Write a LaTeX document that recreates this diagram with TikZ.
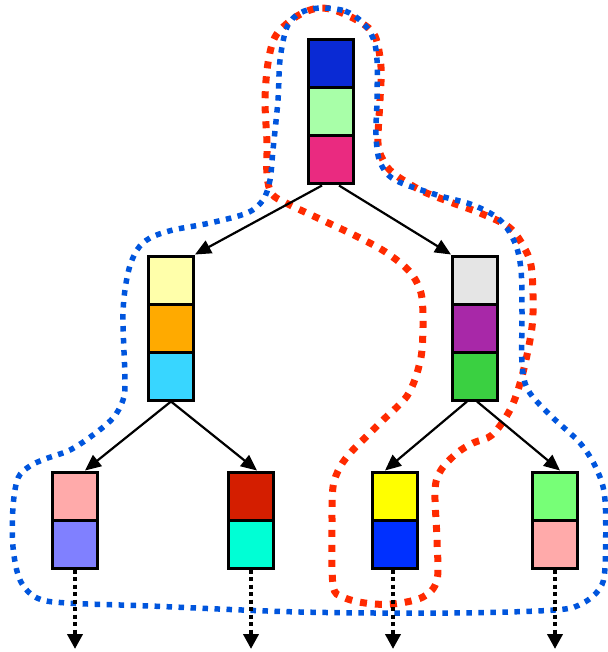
\documentclass[tikz,border=0pt]{standalone}
\usetikzlibrary{arrows.meta,calc}
\definecolor{cA}{HTML}{0A2AD4}
\definecolor{cB}{HTML}{A8FFA8}
\definecolor{cC}{HTML}{EA2A80}
\definecolor{cD}{HTML}{FFFFAA}
\definecolor{cE}{HTML}{FFAA00}
\definecolor{cF}{HTML}{38D6FF}
\definecolor{cG}{HTML}{E5E5E5}
\definecolor{cH}{HTML}{A828A8}
\definecolor{cI}{HTML}{3AD041}
\definecolor{cJ}{HTML}{FFAAAA}
\definecolor{cK}{HTML}{8080FF}
\definecolor{cL}{HTML}{D41E00}
\definecolor{cM}{HTML}{00FFD5}
\definecolor{cN}{HTML}{FFFF00}
\definecolor{cO}{HTML}{0030FF}
\definecolor{cP}{HTML}{77FF77}
\definecolor{blueline}{HTML}{0055DD}
\definecolor{redline}{HTML}{FF2A00}
\tikzset{
  cell/.style={draw=black,line width=3pt,rectangle,minimum width=45pt,minimum height=48pt,inner sep=0pt},
  arr/.style={line width=2.2pt,-{Triangle[length=16pt,width=14pt]}},
  darr/.style={line width=4pt,dash pattern=on 4pt off 3.5pt,-{Triangle[length=15pt,width=15pt]}},
  bluecurve/.style={blueline,line width=5.5pt,dash pattern=on 5.5pt off 6.5pt},
  redcurve/.style={redline,line width=7pt,dash pattern=on 7pt off 8pt},
}
\begin{document}
\begin{tikzpicture}[x=1pt,y=-1pt]
\useasboundingbox (0,0) rectangle (607,652);
% red curve
\draw[redcurve] plot[smooth cycle,tension=0.55] coordinates {
(320,8) (337,11) (360,22) (375,36) (381,67) (380,100) (378,143) (383,160) (393,173)
(420,190) (450,202) (480,213) (510,228) (527,253) (532,273) (533,313) (530,340)
(521,380) (510,410) (492,435) (473,443) (457,453) (441,470) (435,490) (437,540)
(437,580) (423,597) (393,604) (365,603) (343,597) (333,585) (332,523) (333,487)
(340,467) (352,451) (370,433) (383,420) (397,407) (407,396) (414,382) (419,366)
(422,350) (423,320) (421,293) (410,272) (387,253) (360,238) (322,220) (288,204)
(272,194) (267,175) (267,143) (265,100) (268,63) (275,37) (290,21) (305,12)};
% blue curve
\draw[bluecurve] plot[smooth cycle,tension=0.55] coordinates {
(320,8) (345,11) (362,22) (373,38) (377,60) (377,100) (376,135) (380,162) (395,180)
(437,195) (473,205) (500,220) (515,243) (521,270) (522,313) (522,363) (528,390)
(550,415) (580,443) (597,470) (605,500) (605,567) (600,588) (583,603) (555,610)
(450,613) (300,612) (150,606) (67,603) (37,598) (20,580) (13,547) (13,507)
(18,478) (30,466) (45,459) (70,450) (93,435) (113,418) (123,400) (125,380)
(123,313) (128,273) (137,250) (150,238) (173,230) (210,223) (247,213) (263,200)
(270,180) (273,150) (278,100) (280,60) (287,27) (300,13)};
% top column
\node[cell,fill=cA] (t1) at (331,64) {};
\node[cell,fill=cB] (t2) at (331,112) {};
\node[cell,fill=cC] (t3) at (331,160) {};
% left mid
\node[cell,fill=cD] (l1) at (171,280) {};
\node[cell,fill=cE] (l2) at (171,328) {};
\node[cell,fill=cF] (l3) at (171,376) {};
% right mid
\node[cell,fill=cG] (r1) at (475,280) {};
\node[cell,fill=cH] (r2) at (475,328) {};
\node[cell,fill=cI] (r3) at (475,376) {};
% bottom
\node[cell,fill=cJ] (a1) at (75,496) {};
\node[cell,fill=cK] (a2) at (75,544) {};
\node[cell,fill=cL] (b1) at (251,496) {};
\node[cell,fill=cM] (b2) at (251,544) {};
\node[cell,fill=cN] (c1) at (395,496) {};
\node[cell,fill=cO] (c2) at (395,544) {};
\node[cell,fill=cP] (d1) at (555,496) {};
\node[cell,fill=cJ] (d2) at (555,544) {};
% arrows
\draw[arr] ($(t3.south)+(-9,0)$) -- (l1.north east);
\draw[arr] ($(t3.south)+(8,0)$) -- (r1.north west);
\draw[arr] (l3.south) -- ($(a1.north)+(10,0)$);
\draw[arr] (l3.south) -- ($(b1.north)+(6,0)$);
\draw[arr] ($(r3.south)+(-8,0)$) -- ($(c1.north)+(-10,0)$);
\draw[arr] ($(r3.south)+(2,0)$) -- ($(d1.north)+(5,0)$);
% dotted outgoing
\coordinate (ea) at (75,649);
\coordinate (eb) at (251,649);
\coordinate (ec) at (393,649);
\coordinate (ed) at (555,649);
\draw[darr] (a2.south) -- (ea);
\draw[darr] (b2.south) -- (eb);
\draw[darr] ($(c2.south)+(-2,0)$) -- (ec);
\draw[darr] (d2.south) -- (ed);
\end{tikzpicture}
\end{document}
